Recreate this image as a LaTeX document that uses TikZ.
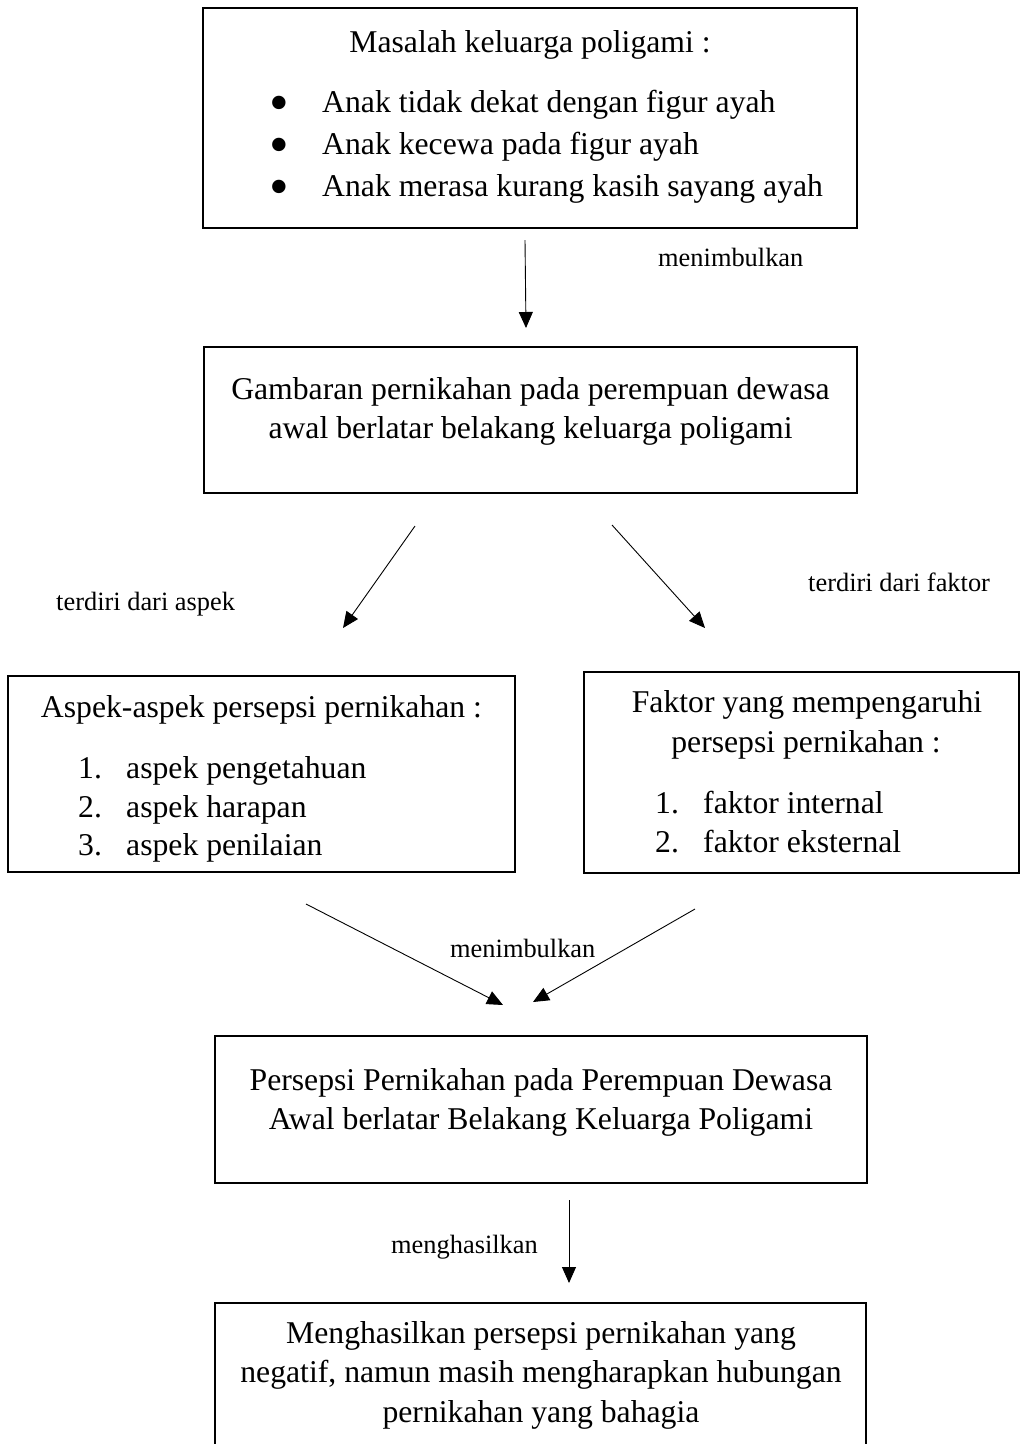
\documentclass[tikz,border=0pt]{standalone}
\usepackage{fontspec}
\setmainfont{Liberation Serif}
\usetikzlibrary{arrows.meta}
\begin{document}
\begin{tikzpicture}[x=1pt,y=-1pt,
  boxnode/.style={draw, line width=1.8pt, inner sep=0pt, outer sep=0pt},
  maintext/.style={inner sep=0pt, font=\fontsize{31.7}{38}\selectfont},
  bullettext/.style={inner sep=0pt, anchor=center, font=\fontsize{31.7}{38}\selectfont},
  labeltext/.style={inner sep=0pt, anchor=base west, font=\fontsize{26.4}{32}\selectfont},
  conn/.style={line width=0.9pt, -{Triangle[length=16pt,width=14pt]}}
]
\useasboundingbox (0,0) rectangle (1021,1444);
\clip (0,0) rectangle (1021,1444);

% boxes
\node[boxnode, minimum width=654pt, minimum height=220pt, anchor=north west] (b1) at (203,8) {};
\node[boxnode, minimum width=653pt, minimum height=146pt, anchor=north west] (b2) at (204,347) {};
\node[boxnode, minimum width=507pt, minimum height=196pt, anchor=north west] (b3) at (8,676) {};
\node[boxnode, minimum width=435pt, minimum height=201pt, anchor=north west] (b4) at (584,672) {};
\node[boxnode, minimum width=652pt, minimum height=147pt, anchor=north west] (b5) at (215,1036) {};
\node[boxnode, minimum width=651pt, minimum height=180pt, anchor=north west] (b6) at (215,1303) {};

% box 1 text
\node[maintext, anchor=base] (t1) at (530,52) {Masalah keluarga poligami :};
\node[bullettext] (bu1) at (279,102) {\raisebox{-19pt}[0pt][0pt]{\scalebox{1.77}{•}}};
\node[bullettext] (bu2) at (279,144) {\raisebox{-19pt}[0pt][0pt]{\scalebox{1.77}{•}}};
\node[bullettext] (bu3) at (279,186) {\raisebox{-19pt}[0pt][0pt]{\scalebox{1.77}{•}}};
\node[maintext, anchor=base west] (t1a) at (322,112) {Anak tidak dekat dengan figur ayah};
\node[maintext, anchor=base west] (t1b) at (322,154) {Anak kecewa pada figur ayah};
\node[maintext, anchor=base west] (t1c) at (322,196) {Anak merasa kurang kasih sayang ayah};

% box 2 text
\node[maintext, anchor=base] (t2a) at (530.5,399) {Gambaran pernikahan pada perempuan dewasa};
\node[maintext, anchor=base] (t2b) at (530.5,438) {awal berlatar belakang keluarga poligami};

% box 3 text
\node[maintext, anchor=base] (t3) at (261.5,717) {Aspek-aspek persepsi pernikahan :};
\node[maintext, anchor=base west] (n3a) at (78,778) {1.};
\node[maintext, anchor=base west] (n3b) at (78,817) {2.};
\node[maintext, anchor=base west] (n3c) at (78,855) {3.};
\node[maintext, anchor=base west] (t3a) at (126,778) {aspek pengetahuan};
\node[maintext, anchor=base west] (t3b) at (126,817) {aspek harapan};
\node[maintext, anchor=base west] (t3c) at (126,855) {aspek penilaian};

% box 4 text
\node[maintext, anchor=base] (t4a) at (807,712) {Faktor yang mempengaruhi};
\node[maintext, anchor=base] (t4b) at (806,752) {persepsi pernikahan :};
\node[maintext, anchor=base west] (n4a) at (655,813) {1.};
\node[maintext, anchor=base west] (n4b) at (655,852) {2.};
\node[maintext, anchor=base west] (t4c) at (703,813) {faktor internal};
\node[maintext, anchor=base west] (t4d) at (703,852) {faktor eksternal};

% box 5 text
\node[maintext, anchor=base] (t5a) at (541,1090) {Persepsi Pernikahan pada Perempuan Dewasa};
\node[maintext, anchor=base] (t5b) at (541,1129) {Awal berlatar Belakang Keluarga Poligami};

% box 6 text
\node[maintext, anchor=base] (t6a) at (541,1343) {Menghasilkan persepsi pernikahan yang};
\node[maintext, anchor=base] (t6b) at (541,1382) {negatif, namun masih mengharapkan hubungan};
\node[maintext, anchor=base] (t6c) at (541,1422) {pernikahan yang bahagia};

% labels
\node[labeltext] (l1) at (658,266) {menimbulkan};
\node[labeltext] (l2) at (56,610) {terdiri dari aspek};
\node[labeltext] (l3) at (808,591) {terdiri dari faktor};
\node[labeltext] (l4) at (450,957) {menimbulkan};
\node[labeltext] (l5) at (391,1253) {menghasilkan};

% connector end points
\coordinate (a1s) at (525,240);
\coordinate (a1e) at (526,328);
\coordinate (a2s) at (415,526);
\coordinate (a2e) at (343,628);
\coordinate (a3s) at (612,525);
\coordinate (a3e) at (705,628);
\coordinate (a4s) at (306,904);
\coordinate (a4e) at (503,1005);
\coordinate (a5s) at (695,909);
\coordinate (a5e) at (533,1002);
\coordinate (a6s) at (569,1200);
\coordinate (a6e) at (569,1283);

\draw[conn] (a1s) -- (a1e);
\draw[conn] (a2s) -- (a2e);
\draw[conn] (a3s) -- (a3e);
\draw[conn] (a4s) -- (a4e);
\draw[conn] (a5s) -- (a5e);
\draw[conn] (a6s) -- (a6e);
\end{tikzpicture}
\end{document}
